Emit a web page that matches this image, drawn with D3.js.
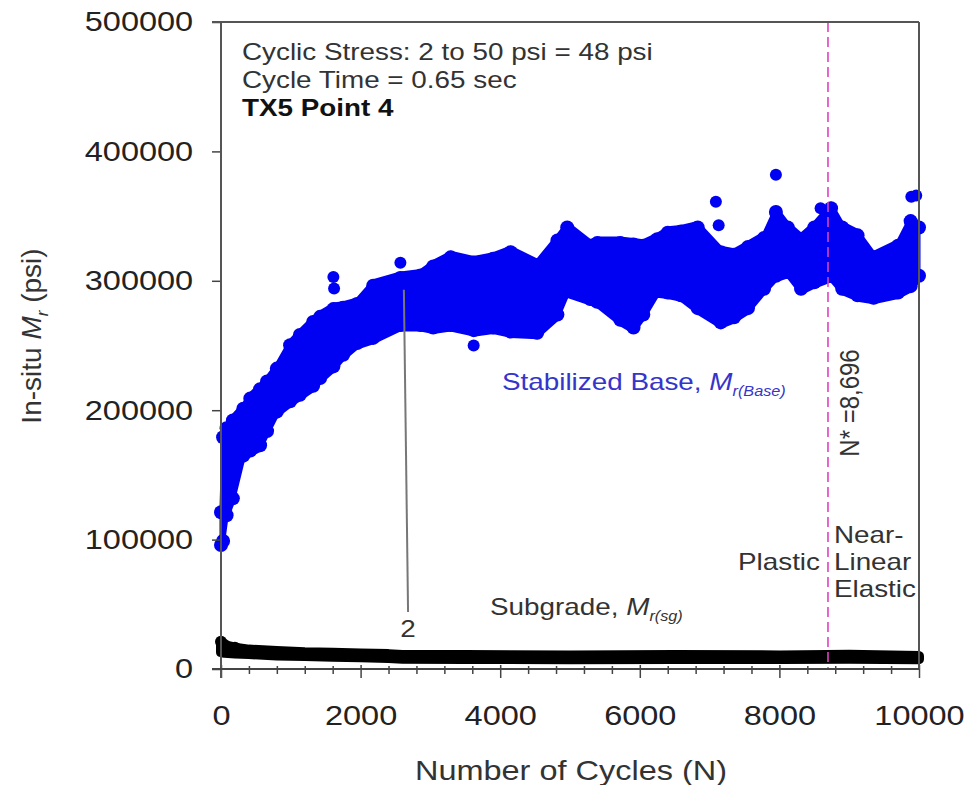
<!DOCTYPE html>
<html>
<head>
<meta charset="utf-8">
<script src="https://cdn.jsdelivr.net/npm/d3@7"></script>
<style>
  body { margin: 0; background: #fff; }
  text { font-family: "Liberation Sans", Arial, sans-serif; }
</style>
</head>
<body>
<div id="chart"></div>
<script>
// Stabilized base: cycle number with the top and bottom of the point cloud (psi)
var baseCycles = [0, 30, 80, 170, 320, 420, 560, 660, 800, 990,
  1130, 1320, 1420, 1610, 1750, 1950, 2180, 2570, 2860, 3040,
  3290, 3620, 3900, 4150, 4530, 4820, 4960, 5290, 5390, 5720,
  5910, 6050, 6250, 6400, 6590, 6830, 7160, 7350, 7550, 7780,
  7950, 8120, 8310, 8500, 8740, 8900, 9120, 9350, 9700, 9880, 10000];
var baseTop = [125000, 183000, 190000, 196000, 205000, 213000, 220000, 226000, 236000, 254000,
  262000, 272000, 276000, 282000, 283000, 286000, 300000, 306000, 308000, 315000,
  322000, 318000, 321000, 326000, 316000, 335000, 345000, 331000, 333000, 333000,
  332000, 331000, 336000, 341000, 342000, 345000, 326000, 324000, 330000, 337000,
  357000, 345000, 336000, 345000, 360000, 345000, 339000, 322000, 331000, 350000, 345000];
var baseBottom = [92000, 95000, 115000, 128000, 161000, 165000, 169000, 180000, 195000, 203000,
  208000, 215000, 221000, 230000, 239000, 248000, 252000, 262000, 262000, 260000,
  262000, 258000, 260000, 257000, 256000, 270000, 288000, 282000, 280000, 266000,
  260000, 270000, 288000, 287000, 285000, 275000, 264000, 268000, 275000, 290000,
  300000, 303000, 290000, 295000, 300000, 290000, 285000, 283000, 287000, 292000, 300000];

// Isolated base points
var outlierCycles = [1610, 1620, 2570, 3620, 7090, 7130, 7950, 8590, 9890, 9960];
var outlierMr = [303000, 294000, 314000, 250000, 361000, 343000, 382000, 356000, 365000, 366000];

// Subgrade band
var sgCycles = [0, 50, 200, 400, 800, 1200, 1600, 2000, 2400, 2600, 3500, 5000, 6500, 8000, 9000, 10000];
var sgTop = [21000, 18500, 16500, 15000, 14000, 13000, 12500, 12000, 11500, 10800, 10800, 10500, 10800, 10500, 11000, 10000];
var sgBottom = [13000, 12500, 12000, 11500, 10500, 10000, 9500, 9000, 8500, 8000, 7800, 7500, 7800, 7800, 8000, 7500];

var xTicks = [0, 2000, 4000, 6000, 8000, 10000];
var xMinorTicks = [400, 800, 1200, 1600, 2400, 2800, 3200, 3600, 4400, 4800, 5200, 5600,
  6400, 6800, 7200, 7600, 8400, 8800, 9200, 9600];
var yTicks = [0, 100000, 200000, 300000, 400000, 500000];
var nStar = 8696;

// Canvas
var width = 975, height = 785;
var svg = d3.select("#chart").append("svg")
    .attr("width", width)
    .attr("height", height);

var x = d3.scaleLinear().domain([0, 10000]).range([221, 919]),
    y = d3.scaleLinear().domain([0, 500000]).range([669, 22]);

var stretch = "scale(1.16,1)";
var textCol = "#333";

// Build point rows from the arrays
var base = baseCycles.map(function(n, i) { return {n: n, hi: baseTop[i], lo: baseBottom[i]}; });
var sg = sgCycles.map(function(n, i) { return {n: n, hi: sgTop[i], lo: sgBottom[i]}; });
var outliers = outlierCycles.map(function(n, i) { return {n: n, v: outlierMr[i]}; });

var band = d3.area()
    .x(function(d) { return x(d.n); })
    .y0(function(d) { return y(d.lo); })
    .y1(function(d) { return y(d.hi); });

// Subgrade cloud
svg.append("path")
    .datum(sg)
    .attr("d", band)
    .attr("fill", "#000")
    .attr("stroke", "#000")
    .attr("stroke-width", 10)
    .attr("stroke-linejoin", "round");
svg.append("g").selectAll("circle")
    .data(sg.slice(0, 3))
    .enter().append("circle")
    .attr("cx", function(d) { return x(d.n); })
    .attr("cy", function(d) { return y(d.hi); })
    .attr("r", 6)
    .attr("fill", "#000");

// Stabilized base cloud
var blue = "#0000f2";
svg.append("path")
    .datum(base)
    .attr("d", band)
    .attr("fill", blue)
    .attr("stroke", blue)
    .attr("stroke-width", 3)
    .attr("stroke-linejoin", "round");
var edges = svg.append("g");
edges.selectAll("circle.hi")
    .data(base)
    .enter().append("circle")
    .attr("cx", function(d) { return x(d.n); })
    .attr("cy", function(d) { return y(d.hi) + 5; })
    .attr("r", 7)
    .attr("fill", blue);
edges.selectAll("circle.lo")
    .data(base)
    .enter().append("circle")
    .attr("cx", function(d) { return x(d.n); })
    .attr("cy", function(d) { return y(d.lo) - 5; })
    .attr("r", 7)
    .attr("fill", blue);
svg.append("g").selectAll("circle")
    .data(outliers)
    .enter().append("circle")
    .attr("cx", function(d) { return x(d.n); })
    .attr("cy", function(d) { return y(d.v); })
    .attr("r", 6)
    .attr("fill", blue);

// Callout line "2"
svg.append("line")
    .attr("x1", x(2620)).attr("y1", y(293000))
    .attr("x2", x(2680)).attr("y2", y(44000))
    .attr("stroke", "#777")
    .attr("stroke-width", 2);

// N* line
svg.append("line")
    .attr("x1", x(nStar)).attr("y1", y(500000))
    .attr("x2", x(nStar)).attr("y2", y(0))
    .attr("stroke", "#e040c0")
    .attr("stroke-width", 1.6)
    .attr("stroke-dasharray", "10,5");

// Axes
var xAxis = svg.append("g")
    .attr("transform", "translate(0," + y(0) + ")")
    .call(d3.axisBottom(x).tickValues(xTicks).tickSize(9).tickPadding(27).tickFormat(d3.format("d")));
var xMinor = svg.append("g")
    .attr("transform", "translate(0," + y(0) + ")")
    .call(d3.axisBottom(x).tickValues(xMinorTicks).tickSize(5).tickFormat(""));
var yAxis = svg.append("g")
    .attr("transform", "translate(" + x(0) + ",0)")
    .call(d3.axisLeft(y).tickValues(yTicks).tickSize(9).tickPadding(15).tickFormat(d3.format("d")));

[xAxis, xMinor, yAxis].forEach(function(g) {
  g.select(".domain").remove();
  g.selectAll(".tick line").attr("stroke", "#444").attr("stroke-width", 1.5);
  g.selectAll("text").attr("font-size", 28).attr("fill", "#222").attr("transform", stretch);
});
xAxis.selectAll(".tick line").attr("y1", -4);
xMinor.selectAll(".tick line").attr("y1", -3);

// Plot frame
var frame = "#555";
svg.append("line").attr("x1", x(0) - 9).attr("y1", y(500000)).attr("x2", x(10000)).attr("y2", y(500000))
    .attr("stroke", frame).attr("stroke-width", 2);
svg.append("line").attr("x1", x(10000)).attr("y1", y(500000)).attr("x2", x(10000)).attr("y2", y(0))
    .attr("stroke", frame).attr("stroke-width", 2);
svg.append("line").attr("x1", x(0)).attr("y1", y(500000)).attr("x2", x(0)).attr("y2", y(0) + 9)
    .attr("stroke", frame).attr("stroke-width", 2);
svg.append("line").attr("x1", x(0) - 9).attr("y1", y(0)).attr("x2", x(10000)).attr("y2", y(0))
    .attr("stroke", "#444").attr("stroke-width", 2);

// Text helper: horizontal text with the reference's wide glyphs
function label(px, py, size, col, anchor) {
  return svg.append("g")
      .attr("transform", "translate(" + px + "," + py + ") " + stretch)
    .append("text")
      .attr("font-size", size)
      .attr("fill", col)
      .attr("text-anchor", anchor || "start");
}

label(242, 60, 24, textCol).text("Cyclic Stress: 2 to 50 psi = 48 psi");
label(242, 88, 24, textCol).text("Cycle Time = 0.65 sec");
label(242, 116, 24, "#111").attr("font-weight", "bold").text("TX5 Point 4");

var sb = label(502, 390, 24, "#3535cc");
sb.append("tspan").text("Stabilized Base, ");
sb.append("tspan").attr("font-style", "italic").text("M");
sb.append("tspan").attr("font-style", "italic").attr("font-size", 14).attr("dy", 6).text("r(Base)");

var sgl = label(490, 615, 24, textCol);
sgl.append("tspan").text("Subgrade, ");
sgl.append("tspan").attr("font-style", "italic").text("M");
sgl.append("tspan").attr("font-style", "italic").attr("font-size", 14).attr("dy", 6).text("r(sg)");

label(x(2680), 637, 24, textCol, "middle").text("2");

label(x(nStar) - 8, 570, 24, textCol, "end").text("Plastic");
label(x(nStar) + 6, 543, 24, textCol).text("Near-");
label(x(nStar) + 6, 570, 24, textCol).text("Linear");
label(x(nStar) + 6, 597, 24, textCol).text("Elastic");

svg.append("text")
    .attr("transform", "translate(859,403) rotate(-90) scale(1,1.16)")
    .attr("font-size", 24)
    .attr("fill", textCol)
    .attr("text-anchor", "middle")
    .text("N* =8,696");

// Axis titles
label(571, 780, 28, textCol, "middle").text("Number of Cycles (N)");

var yt = svg.append("text")
    .attr("transform", "translate(41,336) rotate(-90)")
    .attr("font-size", 28)
    .attr("fill", textCol)
    .attr("text-anchor", "middle");
yt.append("tspan").text("In-situ ");
yt.append("tspan").attr("font-style", "italic").text("M");
yt.append("tspan").attr("font-style", "italic").attr("font-size", 17).attr("dy", 7).text("r");
yt.append("tspan").attr("dy", -7).text(" (psi)");
</script>
</body>
</html>
